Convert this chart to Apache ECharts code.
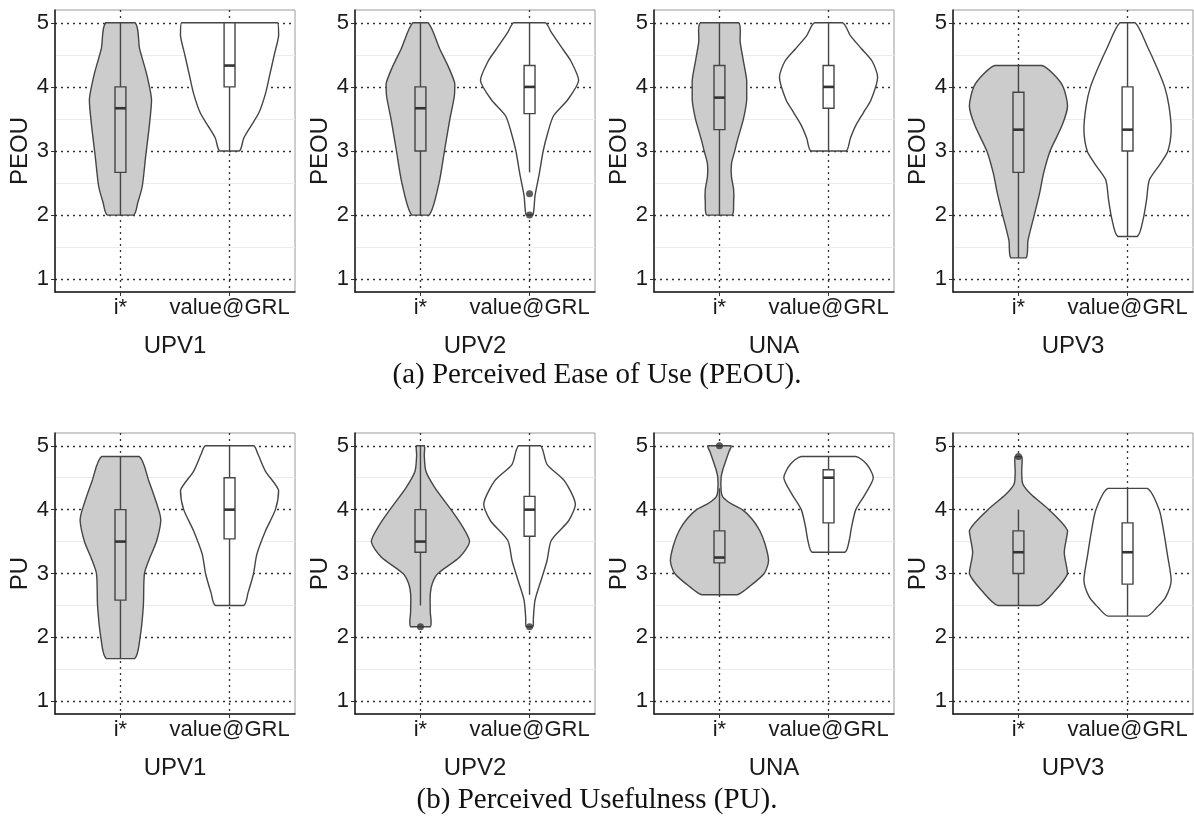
<!DOCTYPE html>
<html>
<head>
<meta charset="utf-8">
<script src="https://cdn.jsdelivr.net/npm/echarts@6.0.0/dist/echarts.min.js"></script>
<style>
  html, body { margin: 0; padding: 0; background: #fff; }
  #main { width: 1194px; height: 826px; }
</style>
</head>
<body>
<div id="main"></div>
<script>
// categories and tick values
var groups = ['i*', 'value@GRL'];
var panelNames = ['UPV1', 'UPV2', 'UNA', 'UPV3'];
var rowNames = ['PEOU', 'PU'];
var captions = ['(a) Perceived Ease of Use (PEOU).', '(b) Perceived Usefulness (PU).'];
var yTicks = [1, 2, 3, 4, 5];
var yMinorTicks = [1.5, 2.5, 3.5, 4.5];
var xTicks = [1, 2];

// violin outlines: [score, half width in category units]
var peouViolinIstar = [
  [[2, 0.12], [2.2, 0.16], [2.45, 0.2], [2.9, 0.23], [3.4, 0.265], [3.8, 0.285], [4.2, 0.24], [4.6, 0.175], [5, 0.135]],
  [[2, 0.08], [2.5, 0.17], [3, 0.22], [3.5, 0.27], [3.85, 0.31], [4.05, 0.315], [4.3, 0.26], [4.6, 0.175], [5, 0.07]],
  [[2, 0.115], [2.2, 0.13], [2.4, 0.13], [2.6, 0.11], [2.8, 0.11], [3, 0.14], [3.2, 0.17], [3.5, 0.22], [3.8, 0.25], [4.1, 0.25], [4.4, 0.22], [4.7, 0.19], [5, 0.175]],
  [[1.333, 0.07], [1.6, 0.087], [2, 0.145], [2.35, 0.195], [2.65, 0.23], [3, 0.29], [3.4, 0.4], [3.7, 0.45], [4, 0.41], [4.2, 0.32], [4.333, 0.215]]
];
var peouViolinGrl = [
  [[3, 0.09], [3.2, 0.13], [3.4, 0.2], [3.6, 0.27], [3.9, 0.33], [4.2, 0.37], [4.5, 0.41], [4.8, 0.45], [5, 0.44]],
  [[2, 0.03], [2.3, 0.05], [2.65, 0.09], [3, 0.125], [3.3, 0.17], [3.55, 0.22], [3.8, 0.35], [4.1, 0.45], [4.4, 0.38], [4.6, 0.3], [4.85, 0.2], [5, 0.145]],
  [[3, 0.16], [3.2, 0.2], [3.4, 0.25], [3.6, 0.32], [3.8, 0.39], [4.15, 0.45], [4.4, 0.4], [4.6, 0.3], [4.8, 0.2], [5, 0.13]],
  [[1.667, 0.09], [1.95, 0.145], [2.25, 0.175], [2.55, 0.2], [2.8, 0.3], [3, 0.37], [3.33, 0.4], [3.7, 0.38], [4, 0.34], [4.3, 0.27], [4.6, 0.19], [5, 0.07]]
];
var puViolinIstar = [
  [[1.667, 0.13], [2, 0.18], [2.5, 0.21], [3, 0.22], [3.25, 0.27], [3.5, 0.33], [3.83, 0.37], [4, 0.35], [4.45, 0.26], [4.833, 0.17]],
  [[2.167, 0.09], [2.4, 0.09], [2.68, 0.09], [2.85, 0.11], [3, 0.16], [3.26, 0.36], [3.5, 0.45], [3.75, 0.38], [4, 0.28], [4.35, 0.13], [4.6, 0.05], [4.85, 0.035], [5, 0.035]],
  [[2.667, 0.16], [2.79, 0.27], [3, 0.41], [3.2, 0.45], [3.45, 0.42], [3.67, 0.37], [3.85, 0.3], [4, 0.21], [4.1, 0.1], [4.2, 0.03], [4.3, 0.015], [4.5, 0.015], [4.62, 0.03], [4.75, 0.055], [4.9, 0.085], [5, 0.105]],
  [[2.5, 0.19], [2.73, 0.335], [3, 0.45], [3.33, 0.42], [3.67, 0.45], [4, 0.28], [4.24, 0.115], [4.4, 0.04], [4.6, 0.03], [4.833, 0.03]]
];
var puViolinGrl = [
  [[2.5, 0.13], [2.7, 0.17], [3, 0.22], [3.3, 0.25], [3.67, 0.33], [4, 0.42], [4.3, 0.45], [4.6, 0.33], [4.87, 0.26], [5, 0.22]],
  [[2.167, 0.03], [2.3, 0.035], [2.58, 0.05], [2.89, 0.105], [3.2, 0.16], [3.52, 0.2], [3.83, 0.36], [4.09, 0.42], [4.45, 0.32], [4.71, 0.16], [5, 0.1]],
  [[3.333, 0.15], [3.52, 0.19], [3.72, 0.21], [4, 0.25], [4.24, 0.335], [4.5, 0.41], [4.71, 0.35], [4.833, 0.25]],
  [[2.333, 0.18], [2.47, 0.27], [2.63, 0.35], [2.89, 0.4], [3.3, 0.365], [3.67, 0.33], [4, 0.29], [4.333, 0.18]]
];

// box stats per panel: [lower whisker, q1, median, q3, upper whisker]
var peouBoxIstar = [[2, 2.667, 3.667, 4, 5], [2, 3, 3.667, 4, 5], [2, 3.333, 3.833, 4.333, 5], [1.333, 2.667, 3.333, 3.917, 4.333]];
var peouBoxGrl = [[3, 4, 4.333, 5, 5], [2.667, 3.583, 4, 4.333, 5], [3, 3.667, 4, 4.333, 5], [1.667, 3, 3.333, 4, 5]];
var puBoxIstar = [[1.667, 2.583, 3.5, 4, 4.833], [2.5, 3.333, 3.5, 4, 5], [2.667, 3.167, 3.25, 3.667, 4.333], [2.5, 3, 3.333, 3.667, 4]];
var puBoxGrl = [[2.5, 3.542, 4, 4.5, 5], [2.667, 3.583, 4, 4.208, 5], [3.333, 3.792, 4.5, 4.625, 4.833], [2.333, 2.833, 3.333, 3.792, 4.333]];

// outliers: [panel, group (1 or 2), score]
var peouOutliers = [[1, 2, 2.333], [1, 2, 2]];
var puOutliers = [[1, 1, 2.167], [1, 2, 2.167], [2, 1, 5], [3, 1, 4.833]];

var violinFills = ['#cccccc', '#ffffff'];
var lineColor = '#454545';
var textColor = '#1a1a1a';
var sans = 'Liberation Sans, Arial, sans-serif';

var gridLefts = [55, 355, 654, 953];
var gridTops = [10, 433];
var gridHeights = [282, 281];

var rows = [
  { istar: peouViolinIstar, grl: peouViolinGrl, boxI: peouBoxIstar, boxG: peouBoxGrl, out: peouOutliers },
  { istar: puViolinIstar, grl: puViolinGrl, boxI: puBoxIstar, boxG: puBoxGrl, out: puOutliers }
];

function renderViolin(profiles) {
  return function (params, api) {
    var i = params.dataIndex;
    var x = api.value(0);
    var unit = api.size([1, 0])[0];
    var prof = profiles[i];
    var right = [], left = [];
    for (var k = 0; k < prof.length; k++) {
      var c = api.coord([x, prof[k][0]]);
      var w = prof[k][1] * unit;
      right.push([c[0] + w, c[1]]);
      left.unshift([c[0] - w, c[1]]);
    }
    var pts = right.concat(left);
    var xs = pts.map(function (p) { return p[0]; });
    var ys = pts.map(function (p) { return p[1]; });
    var bw = 0.05 * unit;
    var pMin = api.coord([x, api.value(1)]);
    var pQ1 = api.coord([x, api.value(2)]);
    var pMed = api.coord([x, api.value(3)]);
    var pQ3 = api.coord([x, api.value(4)]);
    var pMax = api.coord([x, api.value(5)]);
    var fill = violinFills[i];
    return {
      type: 'group',
      children: [
        {
          type: 'polygon',
          shape: {
            points: pts, smooth: 0.25,
            smoothConstraint: [[Math.min.apply(null, xs), Math.min.apply(null, ys)], [Math.max.apply(null, xs), Math.max.apply(null, ys)]]
          },
          style: { fill: fill, stroke: lineColor, lineWidth: 1.4 }
        },
        { type: 'line', shape: { x1: pMin[0], y1: pMin[1], x2: pQ1[0], y2: pQ1[1] }, style: { stroke: lineColor, lineWidth: 1.4 } },
        { type: 'line', shape: { x1: pQ3[0], y1: pQ3[1], x2: pMax[0], y2: pMax[1] }, style: { stroke: lineColor, lineWidth: 1.4 } },
        { type: 'rect', shape: { x: pQ3[0] - bw, y: pQ3[1], width: 2 * bw, height: pQ1[1] - pQ3[1] }, style: { fill: fill, stroke: lineColor, lineWidth: 1.4 } },
        { type: 'line', shape: { x1: pMed[0] - bw, y1: pMed[1], x2: pMed[0] + bw, y2: pMed[1] }, style: { stroke: '#333', lineWidth: 2.6 } }
      ]
    };
  };
}

var option = {
  animation: false,
  backgroundColor: '#fff',
  title: [],
  grid: [],
  xAxis: [],
  yAxis: [],
  series: []
};

captions.forEach(function (t, r) {
  option.title.push({
    text: t,
    left: 'center',
    top: r === 0 ? 356 : 781,
    textStyle: { fontFamily: 'Liberation Serif, Times New Roman, serif', fontSize: 29, fontWeight: 'normal', color: '#111' }
  });
});

for (var r = 0; r < 2; r++) {
  for (var p = 0; p < 4; p++) {
    var gi = r * 4 + p;
    option.grid.push({
      left: gridLefts[p], top: gridTops[r], width: 240, height: gridHeights[r],
      show: true, borderColor: '#9a9a9a', borderWidth: 1, backgroundColor: 'transparent'
    });
    option.xAxis.push({
      type: 'value', gridIndex: gi, min: 0.4, max: 2.6,
      name: panelNames[p], nameLocation: 'middle', nameGap: 42,
      nameTextStyle: { fontSize: 24, color: textColor, fontFamily: sans },
      axisLine: { show: true, onZero: false, lineStyle: { color: '#1a1a1a', width: 1.5 } },
      axisTick: { show: true, customValues: xTicks, length: 4, lineStyle: { color: '#333' } },
      axisLabel: {
        customValues: xTicks, fontSize: 22, color: textColor, fontFamily: sans, margin: 5,
        formatter: function (v) { return groups[Math.round(v) - 1]; }
      },
      splitLine: { show: true, lineStyle: { type: [2, 4], color: '#333', width: 1.3 } }
    });
    option.yAxis.push({
      type: 'value', gridIndex: gi, min: 0.8, max: 5.2,
      name: rowNames[r], nameLocation: 'middle', nameGap: 23,
      nameTextStyle: { fontSize: 24, color: textColor, fontFamily: sans },
      axisLine: { show: true, onZero: false, lineStyle: { color: '#1a1a1a', width: 1.5 } },
      axisTick: { show: true, customValues: yTicks, length: 4, lineStyle: { color: '#333' } },
      axisLabel: { customValues: yTicks, fontSize: 22, color: textColor, fontFamily: sans, margin: 6 },
      splitLine: { show: true, lineStyle: { type: [2, 4], color: '#333', width: 1.3 } }
    });
    option.yAxis.push({
      type: 'value', gridIndex: gi, min: 0.8, max: 5.2,
      axisLine: { show: false }, axisLabel: { show: false },
      axisTick: { show: false, customValues: yMinorTicks },
      splitLine: { show: true, lineStyle: { color: '#ececec', width: 1 } }
    });

    var row = rows[r];
    var profiles = [row.istar[p], row.grl[p]];
    option.series.push({
      type: 'custom',
      xAxisIndex: gi, yAxisIndex: gi * 2,
      renderItem: renderViolin(profiles),
      encode: { x: 0, y: [1, 2, 3, 4, 5] },
      data: [[1].concat(row.boxI[p]), [2].concat(row.boxG[p])],
      z: 3
    });
    var outs = row.out.filter(function (o) { return o[0] === p; }).map(function (o) { return [o[1], o[2]]; });
    option.series.push({
      type: 'scatter',
      xAxisIndex: gi, yAxisIndex: gi * 2,
      symbolSize: 7,
      itemStyle: { color: '#333' },
      data: outs,
      z: 4
    });
  }
}

var myChart = echarts.init(document.getElementById('main'));
myChart.setOption(option);
</script>
</body>
</html>
